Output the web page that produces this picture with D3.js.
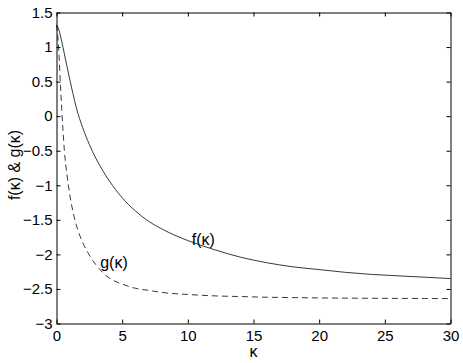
<!DOCTYPE html>
<html><head><meta charset="utf-8">
<script src="https://cdn.jsdelivr.net/npm/d3@7"></script>
<style>body{margin:0;background:#fff}text{font-family:"Liberation Sans",Arial,Helvetica,sans-serif;fill:#000}</style>
</head><body>
<svg id="chart" width="463" height="363"></svg>
<script>
const kappa = [0,0.1,0.2,0.3,0.4,0.5,0.6,0.8,1.0,1.25,1.5,2,2.5,3,3.5,4,5,6,7,8,10,12,14,16,18,20,22,24,26,28,30];
const fValues = [1.32,1.29,1.24,1.16,1.08,0.99,0.9,0.72,0.54,0.33,0.13,-0.17,-0.41,-0.61,-0.78,-0.93,-1.18,-1.37,-1.52,-1.63,-1.8,-1.93,-2.04,-2.12,-2.18,-2.22,-2.26,-2.29,-2.31,-2.33,-2.35];
const gValues = [1.32,1.15,0.85,0.45,0.1,-0.22,-0.5,-0.85,-1.12,-1.38,-1.57,-1.83,-2.01,-2.15,-2.26,-2.34,-2.43,-2.49,-2.52,-2.55,-2.58,-2.6,-2.61,-2.62,-2.625,-2.63,-2.633,-2.635,-2.637,-2.638,-2.64];
const xTicks = [0,5,10,15,20,25,30];
const xTickLabels = ["0","5","10","15","20","25","30"];
const yTicks = [1.5,1,0.5,0,-0.5,-1,-1.5,-2,-2.5,-3];
const yTickLabels = ["1.5","1","0.5","0","\u22120.5","\u22121","\u22121.5","\u22122","\u22122.5","\u22123"];
const curveLabels = [{text:"f(\u03ba)", k:10.3, v:-1.86},{text:"g(\u03ba)", k:3.33, v:-2.19}];

const svg = d3.select("#chart");
const L=56.5, R=450.5, T=12.5, B=323.5;
const x = d3.scaleLinear().domain([0,30]).range([L,R]);
const y = d3.scaleLinear().domain([-3,1.5]).range([B,T]);
const tl = 4;

// curves
const line = d3.line().x(d=>x(d[0])).y(d=>y(d[1])).curve(d3.curveMonotoneX);
svg.append("path").attr("d", line(kappa.map((k,i)=>[k,fValues[i]])))
  .attr("fill","none").attr("stroke","#222").attr("stroke-width",0.9);
svg.append("path").attr("d", line(kappa.map((k,i)=>[k,gValues[i]])))
  .attr("fill","none").attr("stroke","#222").attr("stroke-width",0.9).attr("stroke-dasharray","6,4");

// axes
const fmtX = d=>xTickLabels[xTicks.indexOf(d)];
const fmtY = d=>yTickLabels[yTicks.indexOf(d)];
const gBottom = svg.append("g").attr("transform",`translate(0,${B})`)
  .call(d3.axisBottom(x).tickValues(xTicks).tickFormat(fmtX).tickSizeInner(-tl).tickSizeOuter(0).tickPadding(7));
const gLeft = svg.append("g").attr("transform",`translate(${L},0)`)
  .call(d3.axisLeft(y).tickValues(yTicks).tickFormat(fmtY).tickSizeInner(-tl).tickSizeOuter(0).tickPadding(4));
const gTop = svg.append("g").attr("transform",`translate(0,${T})`)
  .call(d3.axisTop(x).tickValues(xTicks).tickFormat("").tickSizeInner(-tl).tickSizeOuter(0));
const gRight = svg.append("g").attr("transform",`translate(${R},0)`)
  .call(d3.axisRight(y).tickValues(yTicks).tickFormat("").tickSizeInner(-tl).tickSizeOuter(0));
[gBottom,gLeft,gTop,gRight].forEach(g=>{
  g.selectAll("path.domain").attr("stroke","#000").attr("stroke-width",1);
  g.selectAll(".tick line").attr("stroke","#000");
  g.selectAll("text").style("font-size","15px").style("font-family",'"Liberation Sans",Arial,sans-serif');
});
gBottom.selectAll("text").attr("dy","0.71em");

// axis titles
svg.append("text").attr("x",(L+R)/2).attr("y",357).attr("text-anchor","middle")
  .style("font-size","16px").text("\u03ba");
svg.append("text").attr("transform",`translate(20,165) rotate(-90)`).attr("text-anchor","middle")
  .style("font-size","16px").text("f(\u03ba) & g(\u03ba)");

// curve labels
svg.selectAll("text.cl").data(curveLabels).join("text").attr("class","cl")
  .attr("x",d=>x(d.k)).attr("y",d=>y(d.v)).style("font-size","16px").text(d=>d.text);
</script>
</body></html>
